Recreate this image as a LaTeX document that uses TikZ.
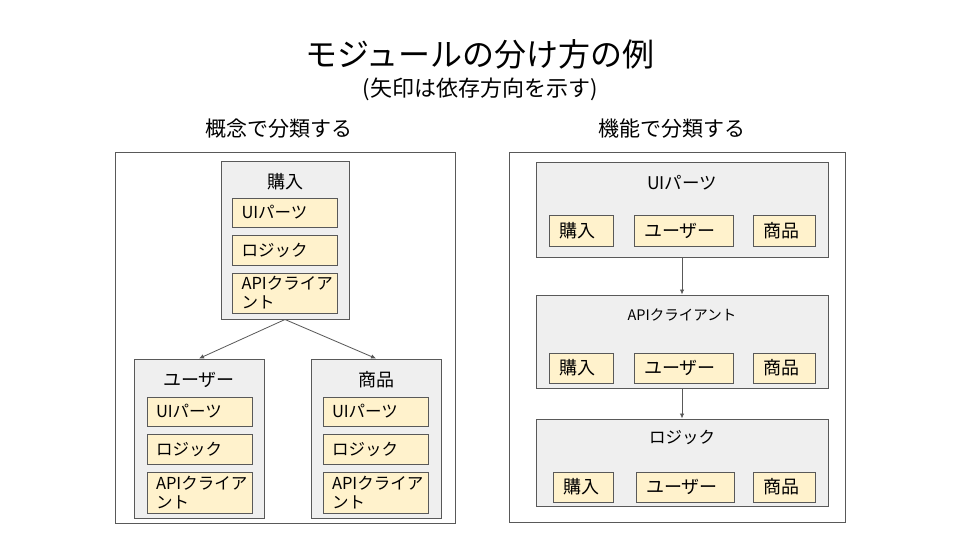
\documentclass[tikz,border=0pt]{standalone}
\usepackage{fontspec}
\setmainfont{Noto Sans CJK JP}
\usepackage{tikz}
\usetikzlibrary{arrows.meta,positioning}
\definecolor{linegray}{HTML}{595959}
\definecolor{groupfill}{HTML}{EFEFEF}
\definecolor{partfill}{HTML}{FFF2CC}

\begin{document}
\begin{tikzpicture}[x=1pt, y=-1pt,
  frame/.style={draw=linegray, line width=1pt, fill=white, inner sep=0pt},
  group/.style={draw=linegray, line width=1pt, fill=groupfill, inner sep=0pt},
  part/.style={draw=linegray, line width=1pt, fill=partfill, align=left,
               inner xsep=9pt, inner ysep=0pt, text width=87pt,
               font=\fontsize{16.5}{19}\selectfont},
  item/.style={draw=linegray, line width=1pt, fill=partfill, align=left,
               inner xsep=10pt, inner ysep=0pt,
               font=\fontsize{18}{21}\selectfont},
  label/.style={font=\fontsize{18}{21}\selectfont, inner sep=0pt},
  arrow/.style={-{Latex[length=5pt,width=4.5pt]}, draw=linegray, line width=0.8pt},
]
\useasboundingbox (0,0) rectangle (960,540);

% Headings
\node[font=\fontsize{32}{36}\selectfont] (title) at (480,54) {モジュールの分け方の例};
\node[font=\fontsize{22}{25}\selectfont] (note) at (480,89) {(矢印は依存方向を示す)};
\node[font=\fontsize{21}{24}\selectfont] (headL) at (279,129) {概念で分類する};
\node[font=\fontsize{21}{24}\selectfont] (headR) at (672,129) {機能で分類する};

% Frames
\node[frame, minimum width=340pt, minimum height=370pt] (frameL) at (285,338) {};
\node[frame, minimum width=336pt, minimum height=369pt] (frameR) at (677,337.5) {};

% Left: by concept
\node[group, minimum width=128pt, minimum height=157pt] (kounyu) at (285,240.5) {};
\node[label] (kounyuT) at (285,182) {購入};
\node[part, minimum height=29pt] (kounyuUI) at (285,212.5) {UIパーツ};
\node[part, minimum height=30pt] (kounyuLogic) at (285,250) {ロジック};
\node[part, minimum height=40pt] (kounyuAPI) at (285,293) {APIクライア\\ント};

\node[group, minimum width=130pt, minimum height=159pt] (user) at (199,438.5) {};
\node[label] (userT) at (199,380) {ユーザー};
\node[part, minimum height=29pt] (userUI) at (199.5,411.5) {UIパーツ};
\node[part, minimum height=30pt] (userLogic) at (199.5,449) {ロジック};
\node[part, minimum height=41pt] (userAPI) at (199.5,492.5) {APIクライア\\ント};

\node[group, minimum width=130pt, minimum height=159pt] (shohin) at (376,438.5) {};
\node[label] (shohinT) at (376,380) {商品};
\node[part, minimum height=29pt] (shohinUI) at (375.5,411.5) {UIパーツ};
\node[part, minimum height=30pt] (shohinLogic) at (375.5,449) {ロジック};
\node[part, minimum height=41pt] (shohinAPI) at (375.5,492.5) {APIクライア\\ント};

\draw[arrow] (kounyu.south) -- (user.north);
\draw[arrow] (kounyu.south) -- (shohin.north);

% Right: by function
\node[group, minimum width=292pt, minimum height=94pt] (ui) at (682,210) {};
\node[label, font=\fontsize{17.5}{21}\selectfont] (uiT) at (682,183) {UIパーツ};
\node[item, text width=44pt, minimum height=31pt] (uiKounyu) at (581,230.5) {購入};
\node[item, text width=79pt, minimum height=31pt] (uiUser) at (683.5,230.5) {ユーザー};
\node[item, text width=42pt, minimum height=31pt] (uiShohin) at (784,230.5) {商品};

\node[group, minimum width=292pt, minimum height=93pt] (api) at (682,341.5) {};
\node[label, font=\fontsize{14.5}{17}\selectfont] (apiT) at (682,315) {APIクライアント};
\node[item, text width=44pt, minimum height=30pt] (apiKounyu) at (581,368) {購入};
\node[item, text width=79pt, minimum height=30pt] (apiUser) at (683.5,368) {ユーザー};
\node[item, text width=42pt, minimum height=30pt] (apiShohin) at (784,368) {商品};

\node[group, minimum width=292pt, minimum height=87pt] (logic) at (682,462.5) {};
\node[label, font=\fontsize{16.5}{19}\selectfont] (logicT) at (682,437) {ロジック};
\node[item, text width=40pt, minimum height=30pt] (logicKounyu) at (583,487) {購入};
\node[item, text width=78pt, minimum height=30pt] (logicUser) at (685,487) {ユーザー};
\node[item, text width=42pt, minimum height=30pt] (logicShohin) at (784,487) {商品};

\draw[arrow] (ui.south) -- (api.north);
\draw[arrow] (api.south) -- (logic.north);
\end{tikzpicture}
\end{document}
